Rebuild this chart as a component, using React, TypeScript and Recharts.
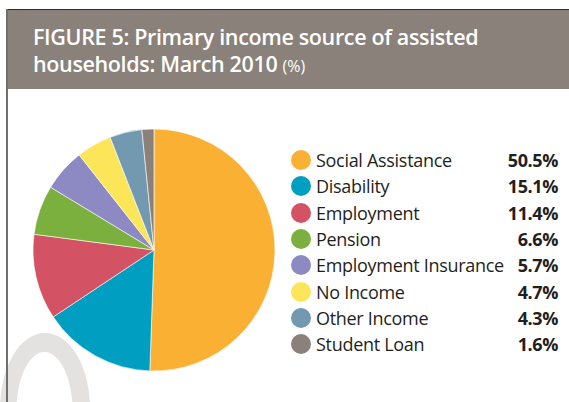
import React from "react";
import { PieChart, Pie, Cell, Legend } from "recharts";

const categories = [
  "Social Assistance",
  "Disability",
  "Employment",
  "Pension",
  "Employment Insurance",
  "No Income",
  "Other Income",
  "Student Loan",
];
const shares = [50.5, 15.1, 11.4, 6.6, 5.7, 4.7, 4.3, 1.6];
const colors = ["#FAB133", "#009FC2", "#D35264", "#7BB03F", "#8D8AC3", "#FDE55A", "#7299B0", "#8A817B"];

const data = categories.map((name, i) => ({ name, value: shares[i] }));

const font = "'Open Sans', sans-serif";

const LegendList = () => (
  <div style={{ fontFamily: font, color: "#231f20" }}>
    {data.map((d, i) => (
      <div key={d.name} style={{ display: "flex", alignItems: "center", height: 26.3 }}>
        <span
          style={{
            width: 20,
            height: 20,
            borderRadius: "50%",
            background: colors[i],
            marginRight: 5,
            flexShrink: 0,
          }}
        />
        <span style={{ fontSize: 18, whiteSpace: "nowrap", letterSpacing: -0.3 }}>{d.name}</span>
        <span style={{ marginLeft: "auto", fontSize: 18, fontWeight: 700, letterSpacing: -0.4 }}>
          {d.value.toFixed(1)}%
        </span>
      </div>
    ))}
  </div>
);

const titleLine: React.CSSProperties = {
  position: "absolute",
  left: 26,
  color: "#fff",
  fontFamily: font,
  fontWeight: 600,
  fontSize: 21.5,
  lineHeight: "22px",
  letterSpacing: -0.35,
  whiteSpace: "nowrap",
};

export default function App() {
  return (
    <div style={{ position: "absolute", left: 0, top: 0, width: 569, height: 402, background: "#fff", overflow: "hidden" }}>
      {/* faded letter in the corner */}
      <svg width={569} height={402} style={{ position: "absolute", left: 0, top: 0 }}>
        <path
          fillRule="evenodd"
          fill="#E3E2E0"
          d="M0,408 a45,75 0 1,0 90,0 a45,75 0 1,0 -90,0 Z M16.5,410 a28,58 0 1,0 56,0 a28,58 0 1,0 -56,0 Z"
        />
      </svg>
      <div style={{ position: "absolute", left: 0, top: 0 }}>
        <PieChart width={569} height={402} margin={{ top: 0, right: 0, bottom: 0, left: 0 }}>
          <Pie
            data={data}
            dataKey="value"
            nameKey="name"
            cx={154}
            cy={250}
            outerRadius={121}
            startAngle={90}
            endAngle={-270}
            stroke="#ffffff"
            strokeWidth={0.6}
            isAnimationActive={false}
          >
            {data.map((d, i) => (
              <Cell key={d.name} fill={colors[i]} />
            ))}
          </Pie>
          <Legend
            layout="vertical"
            align="right"
            verticalAlign="middle"
            content={() => <LegendList />}
            wrapperStyle={{ position: "absolute", left: 291, top: 147, width: 267, right: "auto", bottom: "auto" }}
          />
        </PieChart>
      </div>
      {/* header band */}
      <div
        style={{
          position: "absolute",
          left: 7,
          top: 9,
          width: 562,
          height: 80,
          background: "#8A817B",
          borderTop: "1.5px solid #2e2a28",
          boxSizing: "border-box",
        }}
      >
        <div style={{ ...titleLine, top: 16 }}>FIGURE 5: Primary income source of assisted</div>
        <div style={{ ...titleLine, top: 43 }}>
          households: March 2010{" "}
          <span style={{ fontSize: 16, fontWeight: 400, letterSpacing: 0 }}>(%)</span>
        </div>
      </div>
      <div style={{ position: "absolute", left: 6, top: 9, width: 1.6, height: 393, background: "#6f6f6f" }} />
    </div>
  );
}
